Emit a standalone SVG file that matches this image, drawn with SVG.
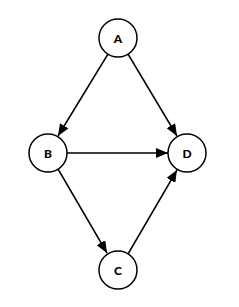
<svg xmlns="http://www.w3.org/2000/svg" width="239" height="307" viewBox="0 0 239 307">
<style>
.n circle{fill:#fff;stroke:#000;stroke-width:1.5}
.n text{font-family:Lato,"Liberation Sans",sans-serif;font-weight:900;font-size:12px;text-anchor:middle;dominant-baseline:central;fill:#000}
.e line{stroke:#000;stroke-width:1.5;marker-end:url(#ah)}
</style>
<defs>
<marker id="ah" markerWidth="12" markerHeight="10" refX="12" refY="5" orient="auto" markerUnits="userSpaceOnUse">
<path d="M0,0 L12,5 L0,10 Z" fill="#000"/>
</marker>
</defs>
<rect width="239" height="307" fill="#fff"/>
<g id="connectors" class="e">
<line x1="108" y1="54" x2="58" y2="136"/>
<line x1="128" y1="54" x2="177" y2="136"/>
<line x1="67" y1="153" x2="168" y2="153"/>
<line x1="58" y1="169" x2="107" y2="253"/>
<line x1="128" y1="254" x2="177" y2="170"/>
</g>
<g id="node-A" class="n"><circle cx="118" cy="38" r="19"/><text x="118" y="38">A</text></g>
<g id="node-B" class="n"><circle cx="48" cy="153" r="19"/><text x="48" y="153">B</text></g>
<g id="node-D" class="n"><circle cx="187" cy="153" r="19"/><text x="187" y="153">D</text></g>
<g id="node-C" class="n"><circle cx="118" cy="270" r="19"/><text x="118" y="270">C</text></g>
</svg>
